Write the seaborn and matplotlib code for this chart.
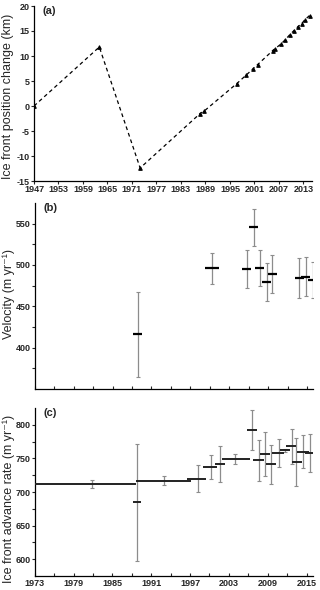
import numpy as np
import pandas as pd
import matplotlib
matplotlib.use("Agg")
import matplotlib.pyplot as plt
import seaborn as sns
from matplotlib.ticker import FixedLocator

# ---------------- data ----------------
# (a) ice front position change
years_a = [1947, 1963, 1973, 1987.7, 1988.7, 1996.7, 1999.0, 2000.6, 2001.8,
           2005.5, 2006.1, 2007.5, 2008.6, 2009.7, 2010.7, 2011.7, 2012.6, 2013.3, 2014.5]
change_a = [0, 11.8, -12.4, -1.5, -1.0, 4.5, 6.2, 7.4, 8.3,
            11.1, 11.5, 12.4, 13.3, 14.3, 15.1, 15.9, 16.5, 17.2, 18.1]
xticks_a = [1947, 1953, 1959, 1965, 1971, 1977, 1983, 1989, 1995, 2001, 2007, 2013]

# (b) velocity: period start, period end, value, error
b_start = [1988.2, 1999.3, 2005.0, 2006.1, 2007.0, 2008.1, 2009.0, 2013.1, 2014.1, 2015.2]
b_end = [1989.5, 2001.4, 2006.4, 2007.4, 2008.4, 2009.4, 2010.3, 2014.5, 2015.5, 2016.5]
b_vel = [416, 496, 495, 545.5, 496, 479.5, 489.5, 484, 486, 482]
b_err = [51, 19, 23, 22, 22, 23.5, 23, 24, 23.5, 22]

# (c) ice front advance rate: period start, period end, value, error
c_start = [1973.0, 1988.2, 1988.7, 1996.5, 1999.0, 2000.8, 2001.9, 2005.8, 2006.8,
           2007.8, 2008.7, 2009.7, 2010.9, 2011.8, 2012.7, 2013.5, 2014.8]
c_end = [1988.6, 1989.5, 1997.2, 1999.5, 2001.2, 2002.4, 2006.3, 2007.4, 2008.4,
         2009.3, 2010.3, 2011.5, 2012.4, 2013.3, 2014.3, 2015.4, 2016.4]
c_rate = [712, 685, 717, 720, 737, 742, 749, 792, 747,
          757, 741, 758.5, 762, 768, 745, 760, 758.5]
c_err = [6.5, 87, 7, 20, 17.5, 27, 8, 30, 30,
         32.5, 29, 21, 2, 26, 36, 25, 28.5]
c_errx = [1981.9, 1988.8, 1993.0, 1998.2, 2000.2, 2001.7, 2004.0, 2006.6, 2007.6,
          2008.6, 2009.5, 2010.7, 2011.6, 2012.7, 2013.4, 2014.5, 2015.6]
xticks_c_lab = [1973, 1979, 1985, 1991, 1997, 2003, 2009, 2015]

# ---------------- style ----------------
sns.set_style("ticks")
plt.rcParams['font.family'] = ['Liberation Sans', 'DejaVu Sans']

fig = plt.figure(figsize=(3.2, 5.9), dpi=100)
W, H = 320.0, 590.0
def add_ax(l, r, t, b):
    return fig.add_axes([l / W, (H - b) / H, (r - l) / W, (b - t) / H])

ax_a = add_ax(34, 312, 6, 181)
ax_b = add_ax(34.7, 313, 203, 389)
ax_c = add_ax(34.7, 313, 408, 576)

tick_font = dict(fontsize=6.5, fontweight='bold')
lab_font = dict(fontsize=9, va='center')
ERR_COL = '#8c8c8c'
LAB_X = -0.095
UNIT = '(m yr\u207b\u00b9)'

# ---- (a) ----
df_a = pd.DataFrame({'year': years_a, 'change': change_a})
sns.lineplot(data=df_a, x='year', y='change', ax=ax_a, color='black',
             linestyle=(0, (3, 2.5)), linewidth=0.9, marker='^', markersize=2.6,
             markeredgecolor='black', sort=False)
ax_a.set_xlim(1947, 2015.1)
ax_a.set_ylim(-15, 20)
ax_a.set_xticks(xticks_a)
ax_a.set_xticklabels([str(v) for v in xticks_a], **tick_font)
ax_a.set_yticks([-15, -10, -5, 0, 5, 10, 15, 20])
ax_a.set_yticklabels(['-15', '-10', '-5', '0', '5', '10', '15', '20'], **tick_font)
ax_a.set_xlabel('')
ax_a.set_ylabel('Ice front position change (km)', **lab_font)
ax_a.yaxis.set_label_coords(LAB_X, 0.486)
ax_a.tick_params(length=2, width=0.8, pad=1)
ax_a.text(0.03, 1.0, '(a)', transform=ax_a.transAxes, fontsize=8, fontweight='bold',
          va='top', ha='left')

# ---- (b) ----
b_mid = [(s + e) / 2 for s, e in zip(b_start, b_end)]
ax_b.errorbar(b_mid, b_vel, yerr=b_err, fmt='none', ecolor=ERR_COL, elinewidth=0.9,
              capsize=1.2, capthick=0.8, zorder=2)
ax_b.hlines(b_vel, b_start, b_end, colors='black', linewidth=1.6, zorder=3)
ax_b.set_xlim(1973, 2015.9)
ax_b.set_ylim(350, 575)
ax_b.xaxis.set_major_locator(FixedLocator(np.arange(1973, 2016, 3)))
ax_b.set_xticklabels([])
ax_b.set_yticks([400, 450, 500, 550])
ax_b.set_yticklabels(['400', '450', '500', '550'], **tick_font)
ax_b.yaxis.set_minor_locator(FixedLocator([375, 425, 475, 525]))
ax_b.set_ylabel('Velocity ' + UNIT, **lab_font)
ax_b.yaxis.set_label_coords(LAB_X, 0.513)
ax_b.tick_params(axis='x', direction='in', length=2, width=0.8)
ax_b.tick_params(axis='y', which='both', length=2, width=0.8, pad=1)
ax_b.text(0.03, 1.0, '(b)', transform=ax_b.transAxes, fontsize=8, fontweight='bold',
          va='top', ha='left')

# ---- (c) ----
ax_c.errorbar(c_errx, c_rate, yerr=c_err, fmt='none', ecolor=ERR_COL, elinewidth=0.9,
              capsize=1.2, capthick=0.8, zorder=2)
ax_c.hlines(c_rate, c_start, c_end, colors='#222222', linewidth=1.4, zorder=3)
ax_c.set_xlim(1973, 2016)
ax_c.set_ylim(575, 825)
ax_c.xaxis.set_major_locator(FixedLocator(xticks_c_lab))
ax_c.set_xticklabels([str(v) for v in xticks_c_lab], **tick_font)
ax_c.xaxis.set_minor_locator(FixedLocator([v + 3 for v in xticks_c_lab[:-1]]))
ax_c.set_yticks([600, 650, 700, 750, 800])
ax_c.set_yticklabels(['600', '650', '700', '750', '800'], **tick_font)
ax_c.yaxis.set_minor_locator(FixedLocator([625, 675, 725, 775]))
ax_c.set_ylabel('Ice front advance rate ' + UNIT, **lab_font)
ax_c.yaxis.set_label_coords(LAB_X, 0.458)
ax_c.tick_params(axis='x', which='both', direction='in', length=2, width=0.8, pad=2)
ax_c.tick_params(axis='y', which='both', length=2, width=0.8, pad=1)
ax_c.text(0.03, 1.0, '(c)', transform=ax_c.transAxes, fontsize=8, fontweight='bold',
          va='top', ha='left')

for ax in (ax_a, ax_b, ax_c):
    sns.despine(ax=ax)
    for s in ('left', 'bottom'):
        ax.spines[s].set_linewidth(0.9)
        ax.spines[s].set_color('black')
    ax.grid(False)

fig.savefig('out.png', dpi=100)
